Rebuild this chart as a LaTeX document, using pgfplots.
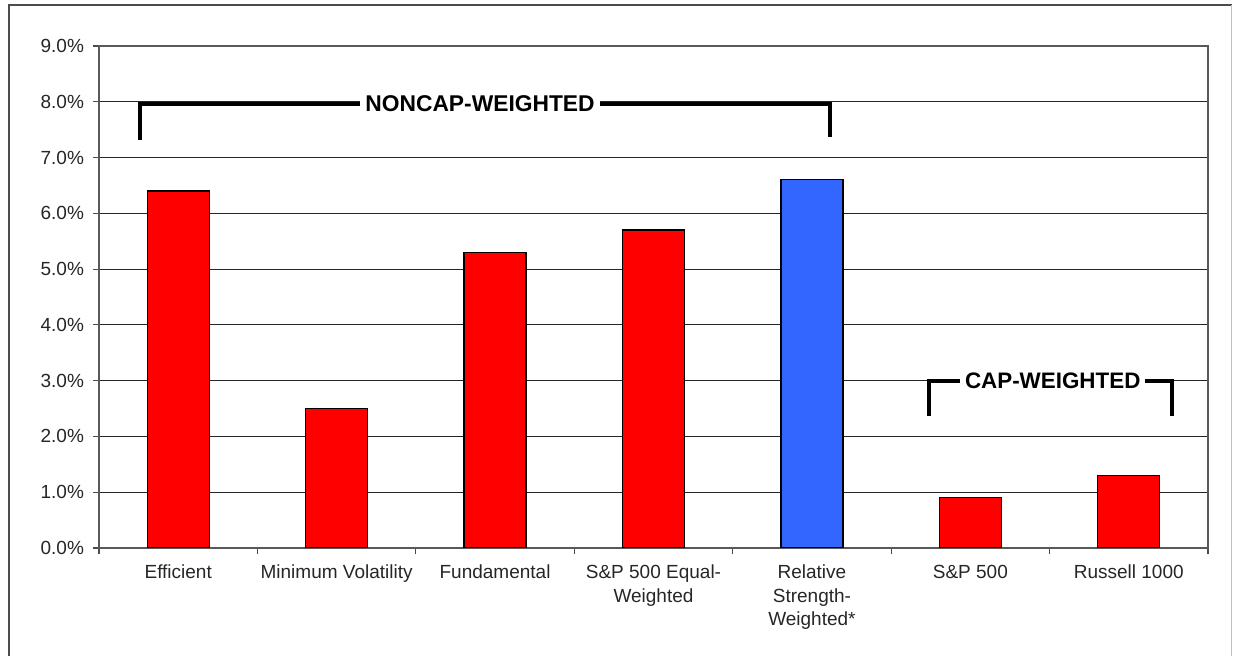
\documentclass[border=0pt]{standalone}
\usepackage{fontspec}
\setmainfont{Liberation Sans}
\usepackage{pgfplots}
\pgfplotsset{compat=1.18}
\definecolor{barred}{HTML}{FF0000}
\definecolor{barblue}{HTML}{3366FF}
\begin{document}
\begin{tikzpicture}
\useasboundingbox (-49.5pt,-54pt) rectangle (567pt,274pt);
\draw[black!70, line width=0.8pt] (-45pt,-80pt) -- (-45pt,271.5pt) -- (566.3pt,271.5pt);
\draw[black!25, line width=0.6pt] (566.3pt,271.5pt) -- (566.3pt,-80pt);
\begin{axis}[
  scale only axis, width=554.5pt, height=251pt,
  xmin=-0.5, xmax=6.5, ymin=0, ymax=9,
  ytick={0,1,2,3,4,5,6,7,8,9},
  ymajorgrids, grid style={black!85, line width=0.6pt},
  xtick={-0.5,0.5,1.5,2.5,3.5,4.5,5.5,6.5},
  x tick label as interval,
  xticklabels={Efficient, Minimum Volatility, Fundamental, {S\&P 500 Equal-\\Weighted}, {Relative\\Strength-\\Weighted*}, S\&P 500, Russell 1000},
  xticklabel style={align=center, yshift=-2pt},
  yticklabel={\pgfmathprintnumber[fixed,fixed zerofill,precision=1]{\tick}\%},
  yticklabel style={xshift=-1pt},
  /pgf/number format/assume math mode=true,
  tick label style={font=\fontsize{9.5}{11.75}\selectfont, text=black!85},
  tick align=outside, major tick length=3pt,
  tick style={black!70, line width=0.6pt},
  axis line style={black!65, line width=0.6pt},
  xtick pos=bottom, ytick pos=left,
]
\addplot[ybar, bar shift=0pt, bar width=31pt, fill=barred, draw=black, line width=0.6pt]
  coordinates {(0,6.4) (1,2.5) (2,5.3) (3,5.7) (5,0.9) (6,1.3)};
\addplot[ybar, bar shift=0pt, bar width=31pt, fill=barblue, draw=black, line width=0.6pt]
  coordinates {(4,6.6)};
\draw[black, line width=2pt] (axis cs:-0.241,7.31) -- (axis cs:-0.241,7.96) -- (axis cs:4.115,7.96) -- (axis cs:4.115,7.37);
\node[fill=white, inner sep=2.5pt, font=\bfseries\fontsize{11.4}{13}\selectfont] at (axis cs:1.905,7.96) {NONCAP-WEIGHTED};
\draw[black, line width=2pt] (axis cs:4.74,2.36) -- (axis cs:4.74,3.0) -- (axis cs:6.274,3.0) -- (axis cs:6.274,2.36);
\node[fill=white, inner sep=2.5pt, font=\bfseries\fontsize{11.2}{13}\selectfont] at (axis cs:5.52,3.0) {CAP-WEIGHTED};
\end{axis}
\end{tikzpicture}
\end{document}
